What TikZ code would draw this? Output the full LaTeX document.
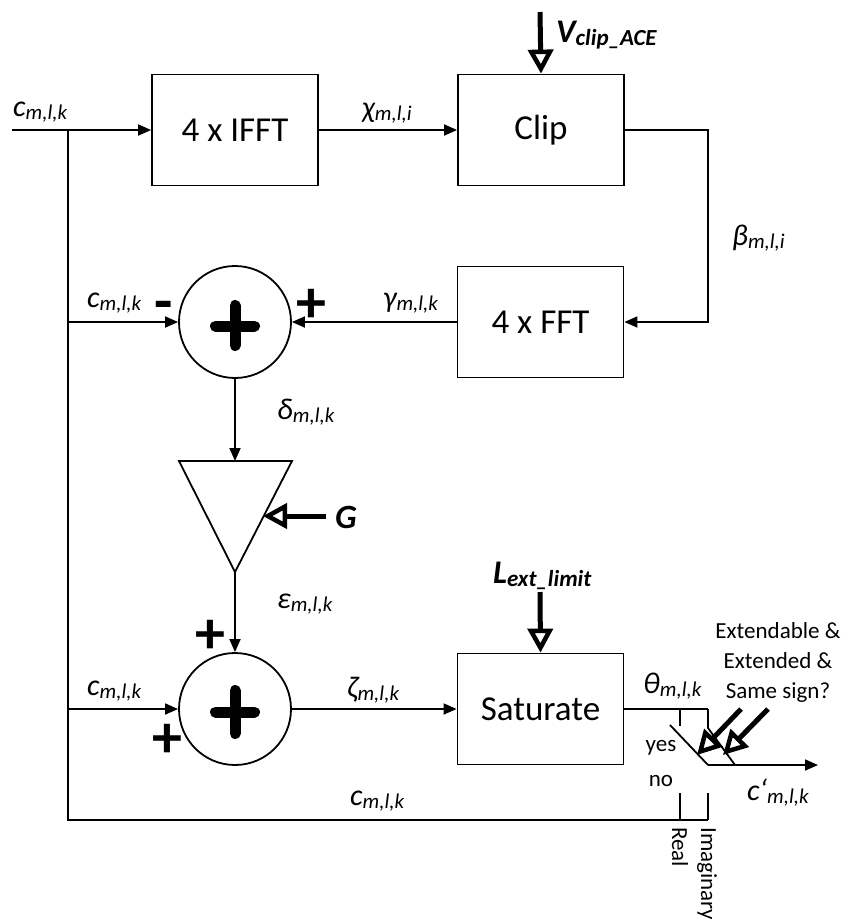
\documentclass[tikz,border=0pt]{standalone}
\usepackage{fontspec}
\setmainfont{Carlito}
\usetikzlibrary{arrows.meta}
\newcommand{\lbl}[2]{{\fontsize{30}{33}\selectfont\itshape #1}\raisebox{-3pt}{\fontsize{21}{24}\selectfont\itshape #2}}
\newcommand{\blbl}[2]{{\fontsize{33}{36}\selectfont\bfseries\itshape #1}\raisebox{-3pt}{\fontsize{23}{26}\selectfont\bfseries\itshape #2}}
\begin{document}
\begin{tikzpicture}[x=1pt,y=-1pt,
  wire/.style={line width=1.8pt},
  arr/.style={wire,-{Triangle[length=13pt,width=11pt]}},
  bigarr/.style={line width=5pt,-{Triangle[open,length=24pt,width=25pt,line width=4.5pt]}},
  box/.style={draw,line width=1.8pt,minimum width=166pt,minimum height=111pt,inner sep=0pt,font=\fontsize{35}{40}\selectfont},
  sumnode/.style={draw,circle,line width=1.8pt,minimum size=112pt,inner sep=0pt},
  bigplus/.style={line width=11pt,line cap=round},
  lab/.style={inner sep=0pt,anchor=base west},
  sign/.style={inner sep=0pt,font=\fontsize{60}{60}\selectfont\bfseries},
  small/.style={inner sep=0pt,font=\fontsize{23}{30}\selectfont}]
\useasboundingbox (0,0) rectangle (844,919);
% boxes
\node[box] (ifft) at (235,130) {4 x IFFT};
\node[box] (clip) at (541,130) {Clip};
\node[box] (fft) at (540.5,322) {4 x FFT};
\node[box] (sat) at (540.5,709) {Saturate};
\node[sumnode] (s1) at (235,322) {};
\node[sumnode] (s2) at (235,709) {};
\draw[bigplus] (215.5,326) -- (254.5,326) (235,305.5) -- (235,345.5);
\draw[bigplus] (215.5,712) -- (254.5,712) (235,690.5) -- (235,733.5);
% amplifier
\coordinate (amptop) at (235,461);
\coordinate (ampbot) at (235,572);
\coordinate (ampG) at (263,516);
\draw[wire,line join=miter] (179,461) -- (292,461) -- (ampbot) -- cycle;
% coordinates
\coordinate (in) at (12,130);
\coordinate (j1) at (68,130);
\coordinate (j2) at (68,322);
\coordinate (j3) at (68,709);
\coordinate (j4) at (68,820);
\coordinate (r1) at (708,130);
\coordinate (r2) at (708,322);
\coordinate (sw1) at (680,709);
\coordinate (sw1d) at (680,726);
\coordinate (sw2) at (708,709);
\coordinate (sw2d) at (708,728);
\coordinate (sw2e) at (735,765);
\coordinate (d1a) at (670,725);
\coordinate (d1b) at (708,765);
\coordinate (out) at (818,765);
\coordinate (b1t) at (680,793);
\coordinate (b1b) at (680,820);
\coordinate (b2t) at (708,793);
\coordinate (b2b) at (708,820);
\coordinate (vtop) at (540,12);
\coordinate (ltop) at (540,592);
\coordinate (gstart) at (326,516);
\coordinate (a1s) at (741,709);
\coordinate (a1e) at (697,755);
\coordinate (a2s) at (768,709);
\coordinate (a2e) at (723,755);
% connectors
\draw[arr] (in) -- (ifft.west);
\draw[arr] (ifft) -- (clip);
\draw[arr,line join=miter] (clip.east) -- (r1) -- (r2) -- (fft.east);
\draw[arr] (fft) -- (s1);
\draw[wire,line join=miter] (j1) -- (j4) -- (b2b);
\draw[arr] (j2) -- (s1);
\draw[arr] (s1) -- (amptop);
\draw[arr] (ampbot) -- (s2);
\draw[arr] (j3) -- (s2);
\draw[arr] (s2) -- (sat);
\draw[wire] (sat.east) -- (sw2);
\draw[wire] (sw1) -- (sw1d);
\draw[wire] (sw2) -- (sw2d) -- (sw2e);
\draw[wire] (d1a) -- (d1b);
\draw[arr] (d1b) -- (out);
\draw[wire] (b1t) -- (b1b);
\draw[wire] (b2t) -- (b2b);
\draw[bigarr] (vtop) -- (clip.north);
\draw[bigarr] (ltop) -- (sat.north);
\draw[bigarr] (gstart) -- (ampG);
\draw[bigarr] (a1s) -- (a1e);
\draw[bigarr] (a2s) -- (a2e);
% labels
\node[lab] (lc0) at (13,116) {\lbl{c}{m,l,k}};
\node[lab] (lchi) at (362,117) {\lbl{χ}{m,l,i}};
\node[lab] (lV) at (556,42) {\blbl{V}{clip\_ACE}};
\node[lab] (lbeta) at (732,245) {\lbl{β}{m,l,i}};
\node[lab] (lc1) at (87,307) {\lbl{c}{m,l,k}};
\node[sign] (minus) at (164,311) {-};
\node[sign] (plus1) at (311,306) {+};
\node[lab] (lgam) at (383,307) {\lbl{γ}{m,l,k}};
\node[lab] (ldel) at (277,419) {\lbl{δ}{m,l,k}};
\node[inner sep=0pt,font=\fontsize{34}{38}\selectfont\bfseries\itshape] (lG) at (346,517) {G};
\node[lab] (leps) at (277,608) {\lbl{ε}{m,l,k}};
\node[sign] (plus2) at (210,637) {+};
\node[lab] (lc2) at (87,695) {\lbl{c}{m,l,k}};
\node[sign] (plus3) at (167,741) {+};
\node[lab] (lzeta) at (347,697) {\lbl{ζ}{m,l,k}};
\node[lab] (lL) at (493,583) {\blbl{L}{ext\_limit}};
\node[lab] (ltheta) at (643,693) {\lbl{θ}{m,l,k}};
\node[small,align=center] (ext) at (778,662) {Extendable \&\\Extended \&\\Same sign?};
\node[small] (yes) at (661,748) {yes};
\node[small] (no) at (661,781) {no};
\node[lab] (lcp) at (747,800) {\lbl{c‘}{m,l,k}};
\node[lab] (lc3) at (350,805) {\lbl{c}{m,l,k}};
\node[small,rotate=-90,anchor=west] (real) at (680,827) {Real};
\node[small,rotate=-90,anchor=west] (imag) at (707,827) {Imaginary};
\end{tikzpicture}
\end{document}
